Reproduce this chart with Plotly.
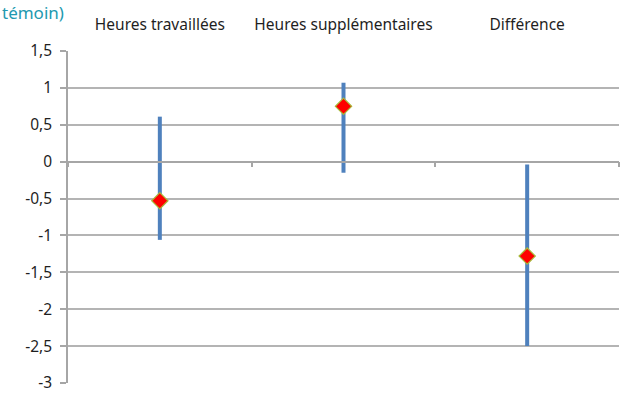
import plotly.graph_objects as go

categories = ["Heures travaillées", "Heures supplémentaires", "Différence"]
estimates = [-0.53, 0.75, -1.28]
upper = [0.61, 1.07, -0.04]
lower = [-1.06, -0.15, -2.5]
y_ticks = [1.5, 1, 0.5, 0, -0.5, -1, -1.5, -2, -2.5, -3]
y_tick_labels = ["1,5", "1", "0,5", "0", "-0,5", "-1", "-1,5", "-2", "-2,5", "-3"]

err_plus = [u - e for u, e in zip(upper, estimates)]
err_minus = [e - l for e, l in zip(estimates, lower)]

fig = go.Figure()
fig.add_trace(go.Scatter(
    x=categories, y=estimates, mode="markers",
    marker=dict(symbol="diamond", size=12.5, color="#ff0000",
                line=dict(color="#a8b838", width=1.2)),
    error_y=dict(type="data", symmetric=False, array=err_plus, arrayminus=err_minus,
                 color="#4f81bd", thickness=4, width=0),
    showlegend=False, cliponaxis=False, hoverinfo="skip",
))
# invisible trace for the zero-line category axis
fig.add_trace(go.Scatter(x=categories, y=[None]*3, xaxis="x2", showlegend=False,
                         hoverinfo="skip"))

ymin, ymax = -3, 1.5
fig.update_layout(
    width=627, height=405,
    margin=dict(l=68, r=8, t=51, b=22, autoexpand=False),
    paper_bgcolor="white", plot_bgcolor="white",
    font=dict(family="Noto Sans", size=14, color="#262626"),
    xaxis=dict(side="top", showline=False, showgrid=False, ticks="",
               range=[-0.5, 2.5], ticklabelstandoff=17, automargin=False,
               tickfont=dict(size=15.5, color="#1f1f1f")),
    xaxis2=dict(overlaying="x", anchor="free", position=(0 - ymin) / (ymax - ymin),
                side="bottom", range=[-0.5, 2.5], showline=True, linecolor="#a6a6a6",
                linewidth=1.5, ticks="outside", tickson="boundaries", ticklen=5,
                tickcolor="#a6a6a6", tickwidth=1.5, showticklabels=False, showgrid=False,
                automargin=False, categoryorder="array", categoryarray=categories),
    yaxis=dict(range=[ymin, ymax], tickvals=y_ticks, ticktext=y_tick_labels,
               showline=True, linecolor="#a6a6a6", linewidth=1.5, automargin=False,
               ticks="outside", ticklen=6, tickcolor="#a6a6a6", tickwidth=1.5,
               showgrid=True, gridcolor="#b4b4b4", gridwidth=1.5, zeroline=False,
               ticklabelstandoff=5, tickfont=dict(size=15.5, color="#1f1f1f")),
    annotations=[dict(text="témoin)", xref="paper", yref="paper", x=-68/551, y=1 + 52/332,
                      xanchor="left", yanchor="top", showarrow=False,
                      font=dict(family="Noto Sans", size=17, color="#2299b0"))],
)
fig.write_html("out.html", config={"displayModeBar": False},
               post_script="document.body.style.margin='0';")
